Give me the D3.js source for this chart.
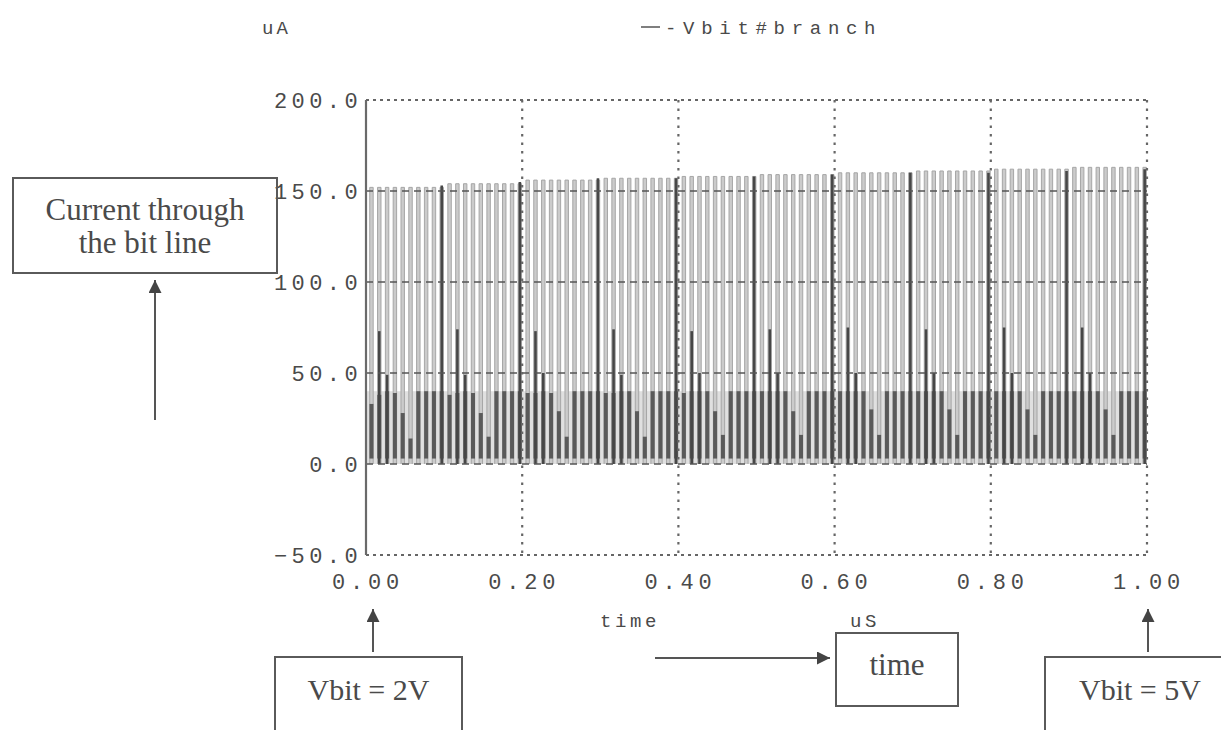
<!DOCTYPE html>
<html>
<head>
<meta charset="utf-8">
<script src="https://cdn.jsdelivr.net/npm/d3@7"></script>
<style>
  body { margin: 0; background: #fff; }
  svg { display: block; }
</style>
</head>
<body>
<script>
// Data (time in uS, current in uA)
let periodStart = [0.0, 0.1, 0.2, 0.3, 0.4, 0.5, 0.6, 0.7, 0.8, 0.9];
let slotOffset = [0.007, 0.017, 0.027, 0.037, 0.047, 0.057, 0.067, 0.077, 0.087, 0.097];

// peak of the light fast pulses, one value per period
let lightPeak = [152, 154, 156, 157, 158, 159, 160, 161, 162, 163];

// dark pulse level per slot, one row per period
let darkLevel = [
  [33, 38, 40, 39, 28, 14, 40, 40, 40, 40],
  [38, 39, 40, 39, 28, 15, 40, 40, 40, 40],
  [39, 39, 40, 39, 29, 15, 40, 40, 40, 40],
  [39, 39, 40, 40, 29, 15, 40, 40, 40, 40],
  [39, 40, 40, 40, 29, 16, 40, 40, 40, 40],
  [40, 40, 40, 40, 29, 16, 40, 40, 40, 40],
  [40, 40, 40, 40, 30, 16, 40, 40, 40, 40],
  [40, 40, 40, 40, 30, 16, 40, 40, 40, 40],
  [40, 40, 40, 40, 30, 16, 40, 40, 40, 40],
  [40, 40, 40, 40, 30, 16, 40, 40, 40, 40]
];

// thin dark spikes in each period
let tallSpike = [153, 155, 157, 157, 158, 159, 160, 160, 161, 162];  // slot 9
let midSpike = [73, 74, 73, 74, 73, 74, 75, 74, 75, 75];              // slot 1
let lowSpike = [49, 49, 50, 49, 50, 50, 50, 50, 50, 50];              // slot 2

let yTicks = [-50, 0, 50, 100, 150, 200];
let xTicks = [0, 0.2, 0.4, 0.6, 0.8, 1.0];

let width = 1221, height = 730;
let margin = { top: 100, bottom: 175, left: 366, right: 74 };

let svg = d3.select('body')
  .append('svg')
  .attr('width', width)
  .attr('height', height)
  .style('background', '#fff');

let xScale = d3.scaleLinear()
  .domain([0, 1])
  .range([margin.left, width - margin.right]);

let yScale = d3.scaleLinear()
  .domain([-50, 200])
  .range([height - margin.bottom, margin.top]);

let mono = 'Liberation Mono, DejaVu Sans Mono, monospace';
let serif = 'Liberation Serif, DejaVu Serif, serif';
let ink = '#4a4a4a';

// flatten samples
let samples = [];
periodStart.forEach((p, i) => {
  slotOffset.forEach((o, j) => {
    samples.push({ t: p + o, light: lightPeak[i], dark: darkLevel[i][j] });
  });
});

// pale band under the dark pulses
svg.append('rect')
  .attr('x', xScale(0))
  .attr('y', yScale(40))
  .attr('width', xScale(1) - xScale(0))
  .attr('height', yScale(0) - yScale(40))
  .attr('fill', '#e0e0e0');

// light pulses
let hw = 0.0022;
let pulse = d3.line().x(d => xScale(d[0])).y(d => yScale(d[1]));
svg.append('g')
  .selectAll('path')
  .data(samples)
  .enter()
  .append('path')
  .attr('d', d => pulse([[d.t - hw, 0], [d.t - hw, d.light], [d.t + hw, d.light], [d.t + hw, 0]]))
  .attr('fill', '#cbcbcb')
  .attr('stroke', '#a6a6a6')
  .attr('stroke-width', 1);

// dark pulses near the bottom
svg.append('g')
  .selectAll('rect')
  .data(samples)
  .enter()
  .append('rect')
  .attr('x', d => xScale(d.t) - 2)
  .attr('y', d => yScale(d.dark))
  .attr('width', 4)
  .attr('height', d => yScale(3) - yScale(d.dark))
  .attr('fill', '#5a5a5a');

// thin spikes
let spikes = [];
periodStart.forEach((p, i) => {
  spikes.push({ t: p + slotOffset[9], v: tallSpike[i] });
  spikes.push({ t: p + slotOffset[1], v: midSpike[i] });
  spikes.push({ t: p + slotOffset[2], v: lowSpike[i] });
});
svg.append('g')
  .selectAll('line')
  .data(spikes)
  .enter()
  .append('line')
  .attr('x1', d => xScale(d.t))
  .attr('x2', d => xScale(d.t))
  .attr('y1', yScale(0))
  .attr('y2', d => yScale(d.v))
  .attr('stroke', '#474747')
  .attr('stroke-width', 2.6);

// horizontal grid
svg.append('g')
  .selectAll('line')
  .data(yTicks.filter(v => v > -50 && v < 200))
  .enter()
  .append('line')
  .attr('x1', xScale(0))
  .attr('x2', xScale(1))
  .attr('y1', d => yScale(d))
  .attr('y2', d => yScale(d))
  .attr('stroke', '#555')
  .attr('stroke-width', 1.6)
  .attr('stroke-dasharray', '7,5');

// vertical grid
svg.append('g')
  .selectAll('line')
  .data(xTicks.filter(v => v > 0))
  .enter()
  .append('line')
  .attr('x1', d => xScale(d))
  .attr('x2', d => xScale(d))
  .attr('y1', yScale(200))
  .attr('y2', yScale(-50))
  .attr('stroke', '#666')
  .attr('stroke-width', 2.2)
  .attr('stroke-dasharray', '2.5,6');

// top and bottom borders
[200, -50].forEach(v => {
  svg.append('line')
    .attr('x1', xScale(0)).attr('x2', xScale(1))
    .attr('y1', yScale(v)).attr('y2', yScale(v))
    .attr('stroke', '#666')
    .attr('stroke-width', 2)
    .attr('stroke-dasharray', '3,4');
});

// left axis, solid
svg.append('line')
  .attr('x1', xScale(0)).attr('x2', xScale(0))
  .attr('y1', yScale(200)).attr('y2', yScale(-50))
  .attr('stroke', '#6a6a6a')
  .attr('stroke-width', 2.2);

// y tick labels
svg.append('g')
  .selectAll('text')
  .data(yTicks)
  .enter()
  .append('text')
  .attr('x', xScale(0) - 4)
  .attr('y', d => yScale(d) + 8)
  .attr('text-anchor', 'end')
  .attr('font-family', mono)
  .attr('font-size', 22)
  .attr('letter-spacing', 4.4)
  .attr('fill', ink)
  .text(d => d3.format('.1f')(d));

// x tick labels
svg.append('g')
  .selectAll('text')
  .data(xTicks)
  .enter()
  .append('text')
  .attr('x', d => xScale(d) + 2)
  .attr('y', 589)
  .attr('text-anchor', 'middle')
  .attr('font-family', mono)
  .attr('font-size', 22)
  .attr('letter-spacing', 4.8)
  .attr('fill', ink)
  .text(d => d3.format('.2f')(d));

// units and legend
let small = [
  { x: 262, y: 34, s: 'uA', ls: 3 },
  { x: 665, y: 34, s: '-Vbit#branch', ls: 6.7 },
  { x: 600, y: 627, s: 'time', ls: 3.6 },
  { x: 850, y: 627, s: 'uS', ls: 3.6 }
];
svg.append('g')
  .selectAll('text')
  .data(small)
  .enter()
  .append('text')
  .attr('x', d => d.x)
  .attr('y', d => d.y)
  .attr('font-family', mono)
  .attr('font-size', 19)
  .attr('letter-spacing', d => d.ls)
  .attr('fill', ink)
  .text(d => d.s);

svg.append('line')
  .attr('x1', 641).attr('x2', 660)
  .attr('y1', 27).attr('y2', 27)
  .attr('stroke', '#555')
  .attr('stroke-width', 1.5);

// annotation boxes
let boxes = [
  { x: 13, y: 178, w: 264, h: 95, lines: ['Current through', 'the bit line'], size: 31, ty: [220, 253] },
  { x: 275, y: 657, w: 187, h: 85, lines: ['Vbit = 2V'], size: 30, ty: [700] },
  { x: 836, y: 633, w: 122, h: 73, lines: ['time'], size: 31, ty: [675] },
  { x: 1045, y: 657, w: 190, h: 85, lines: ['Vbit = 5V'], size: 30, ty: [700] }
];
boxes.forEach(b => {
  svg.append('rect')
    .attr('x', b.x).attr('y', b.y)
    .attr('width', b.w).attr('height', b.h)
    .attr('fill', 'none')
    .attr('stroke', '#5a5a5a')
    .attr('stroke-width', 2);
  b.lines.forEach((s, i) => {
    svg.append('text')
      .attr('x', b.x + b.w / 2)
      .attr('y', b.ty[i])
      .attr('text-anchor', 'middle')
      .attr('font-family', serif)
      .attr('font-size', b.size)
      .attr('fill', ink)
      .text(s);
  });
});

// arrows
let arrows = [
  { x1: 155, y1: 420, x2: 155, y2: 280 },
  { x1: 373, y1: 652, x2: 373, y2: 609 },
  { x1: 655, y1: 658, x2: 830, y2: 658 },
  { x1: 1148, y1: 652, x2: 1148, y2: 609 }
];
svg.append('defs').append('marker')
  .attr('id', 'head')
  .attr('viewBox', '0 0 10 10')
  .attr('refX', 10).attr('refY', 5)
  .attr('markerWidth', 7.5).attr('markerHeight', 6.5)
  .attr('markerUnits', 'strokeWidth')
  .attr('orient', 'auto')
  .append('path')
  .attr('d', 'M0,0 L10,5 L0,10 Z')
  .attr('fill', '#444');

svg.append('g')
  .selectAll('line')
  .data(arrows)
  .enter()
  .append('line')
  .attr('x1', d => d.x1).attr('y1', d => d.y1)
  .attr('x2', d => d.x2).attr('y2', d => d.y2)
  .attr('stroke', '#555')
  .attr('stroke-width', 2)
  .attr('marker-end', 'url(#head)');
</script>
</body>
</html>
